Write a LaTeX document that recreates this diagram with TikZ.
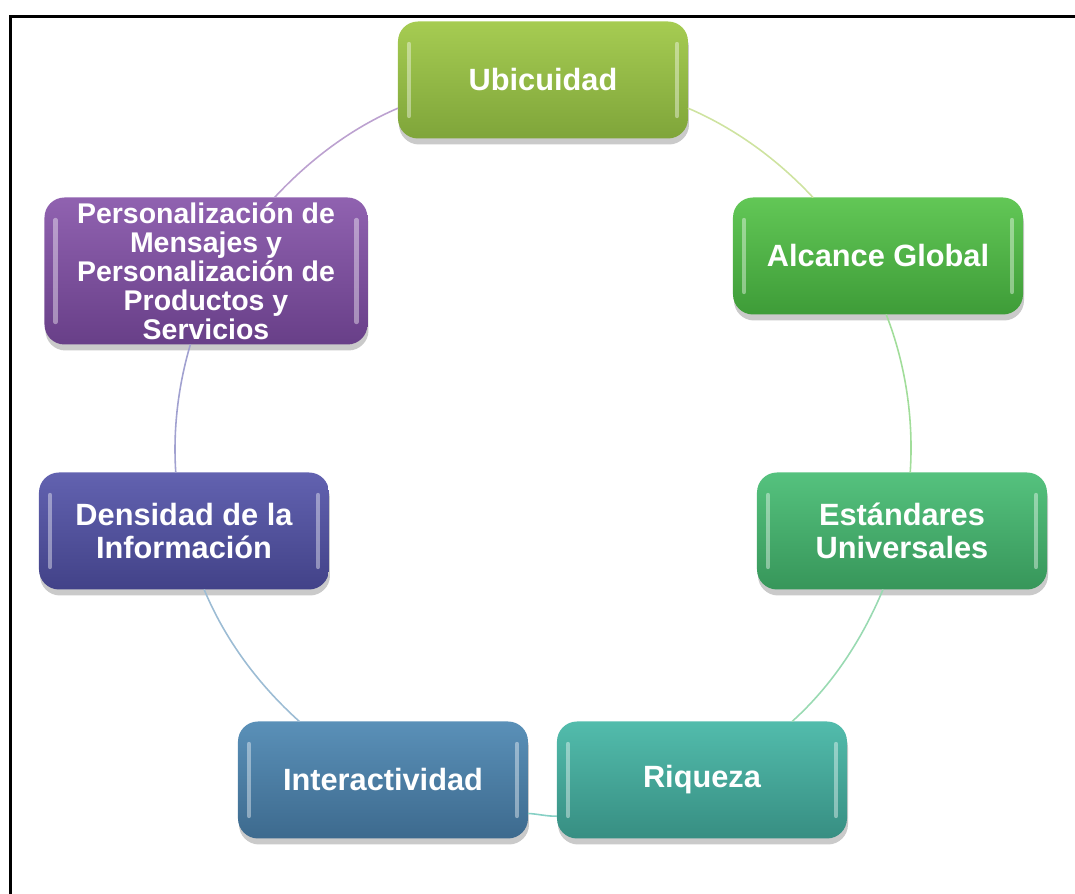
\documentclass[tikz,border=0pt]{standalone}
\usepackage{fontspec}
\setmainfont{Liberation Sans}
\usetikzlibrary{shadows}

\definecolor{ubiT}{HTML}{A6CC52}
\definecolor{ubiB}{HTML}{7FA53A}
\definecolor{alcT}{HTML}{62C756}
\definecolor{alcB}{HTML}{3E9C38}
\definecolor{estT}{HTML}{55C27E}
\definecolor{estB}{HTML}{37965A}
\definecolor{riqT}{HTML}{52BCAC}
\definecolor{riqB}{HTML}{378E82}
\definecolor{intT}{HTML}{5A90B8}
\definecolor{intB}{HTML}{3D6A8E}
\definecolor{denT}{HTML}{6262B0}
\definecolor{denB}{HTML}{424288}
\definecolor{perT}{HTML}{9062B0}
\definecolor{perB}{HTML}{683F88}

\begin{document}
\begin{tikzpicture}[
        item/.style={rectangle, rounded corners=0.4cm, minimum width=5.8cm, minimum height=2.34cm, align=center, text=white, inner sep=2pt, outer sep=0pt, font=\fontsize{17.5}{18.5}\selectfont\bfseries, drop shadow={shadow xshift=0.02cm, shadow yshift=-0.12cm, opacity=0.35, fill=black!60},
            path picture={
                \draw[white, opacity=0.4, line width=2.5pt, line cap=round] ([xshift=0.22cm, yshift=-0.45cm]path picture bounding box.north west) -- ([xshift=0.22cm, yshift=0.45cm]path picture bounding box.south west);
                \draw[white, opacity=0.4, line width=2.5pt, line cap=round] ([xshift=-0.22cm, yshift=-0.45cm]path picture bounding box.north east) -- ([xshift=-0.22cm, yshift=0.45cm]path picture bounding box.south east);
            }},
        ring/.style={line width=0.9pt, looseness=0.86}
    ]

        \useasboundingbox (-10.86,-8.92) rectangle (10.64,8.96);

        % Frame
        \draw[line width=1.7pt] (-10.65,-8.92) -- (-10.65,8.62) -- (10.64,8.62);

        % Ring nodes
        \node[item, top color=ubiT, bottom color=ubiB] (ubi) at (0,7.36) {Ubicuidad};
        \node[item, top color=alcT, bottom color=alcB] (alc) at (6.7,3.84) {Alcance Global};
        \node[item, top color=estT, bottom color=estB] (est) at (7.18,-1.66) {Estándares\\Universales};
        \node[item, top color=riqT, bottom color=riqB] (riq) at (3.18,-6.64) {Riqueza};
        \node[item, top color=intT, bottom color=intB] (int) at (-3.2,-6.64) {Interactividad};
        \node[item, top color=denT, bottom color=denB] (den) at (-7.18,-1.66) {Densidad de la\\Información};
        \node[item, top color=perT, bottom color=perB, minimum width=6.46cm, minimum height=2.94cm, font=\fontsize{16.2}{16.5}\selectfont\bfseries] (per) at (-6.74,3.54) {Personalización de\\Mensajes y\\Personalización de\\Productos y\\Servicios};

        % Ring segments
        \draw[ring, draw=ubiT!55] (ubi.-11.6) to[out=-23.2, in=132.9] (alc.138.2);
        \draw[ring, draw=alcT!60] (alc.-82.3) to[out=-68.7, in=86.2] (est.82);
        \draw[ring, draw=estT!60] (est.-108.3) to[out=-112.6, in=42] (riq.33.9);
        \draw[ring, draw=riqT!70] (riq.-166.2) to[out=-177.8, in=-2.3] (int.-13.8);
        \draw[ring, draw=intT!60] (int.145.8) to[out=138.1, in=-67.4] (den.-71.7);
        \draw[ring, draw=denT!60] (den.98) to[out=93.8, in=-106.4] (per.-102.4);
        \draw[ring, draw=perT!60] (per.47.5) to[out=47.1, in=-156.8] (ubi.191.6);

    \end{tikzpicture}
\end{document}
